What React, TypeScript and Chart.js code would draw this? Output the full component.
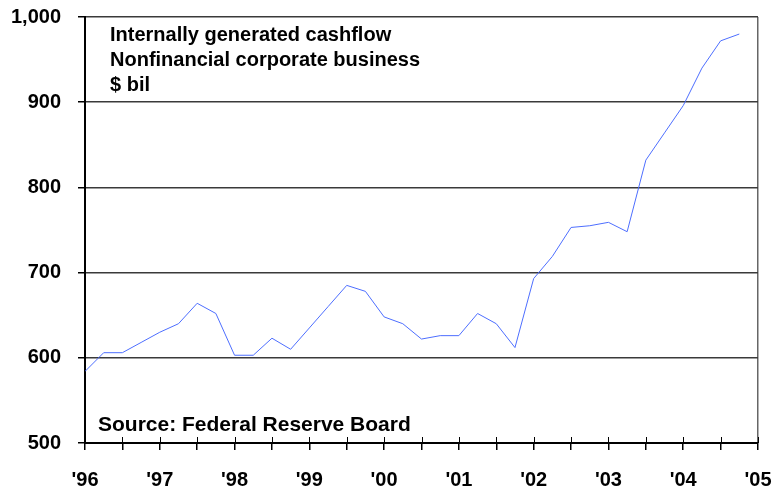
import React, { useEffect, useRef } from "react";
import { Chart, registerables } from "chart.js";

Chart.register(...registerables);

const quarters = [
  "1996Q1","1996Q2","1996Q3","1996Q4",
  "1997Q1","1997Q2","1997Q3","1997Q4",
  "1998Q1","1998Q2","1998Q3","1998Q4",
  "1999Q1","1999Q2","1999Q3","1999Q4",
  "2000Q1","2000Q2","2000Q3","2000Q4",
  "2001Q1","2001Q2","2001Q3","2001Q4",
  "2002Q1","2002Q2","2002Q3","2002Q4",
  "2003Q1","2003Q2","2003Q3","2003Q4",
  "2004Q1","2004Q2","2004Q3","2004Q4",
];

const cashflow = [
  584, 606, 606, 618,
  630, 640, 664, 652,
  603, 603, 623, 610,
  635, 660, 685, 678,
  648, 640, 622, 626,
  626, 652, 640, 612,
  693, 719, 753, 755,
  759, 748, 832, 864,
  896, 940, 972, 980,
];

const yearLabels = ["'96","'97","'98","'99","'00","'01","'02","'03","'04","'05"];
const titleLines = ["Internally generated cashflow", "Nonfinancial corporate business", "$ bil"];
const sourceText = "Source: Federal Reserve Board";

const FONT = 'Arial, "Liberation Sans", sans-serif';

const overlayPlugin = {
  id: "overlay",
  afterDraw(chart: any) {
    const { ctx, chartArea, scales } = chart;
    const xs = scales.x;
    ctx.save();
    ctx.strokeStyle = "#000";
    ctx.lineWidth = 1;
    xs.ticks.forEach((t: any) => {
      const px = Math.round(xs.getPixelForValue(t.value)) + 0.5;
      ctx.beginPath();
      ctx.moveTo(px, chartArea.bottom - 6);
      ctx.lineTo(px, chartArea.bottom);
      ctx.stroke();
    });
    ctx.fillStyle = "#000";
    ctx.textAlign = "left";
    ctx.textBaseline = "alphabetic";
    ctx.font = `bold 20px ${FONT}`;
    titleLines.forEach((line, i) => {
      ctx.fillText(line, chartArea.left + 25, chartArea.top + 24 + i * 25);
    });
    ctx.font = `bold 21px ${FONT}`;
    ctx.fillText(sourceText, chartArea.left + 13, chartArea.bottom - 12);
    ctx.restore();
  },
};

export default function App() {
  const ref = useRef<HTMLCanvasElement>(null);
  useEffect(() => {
    const chart = new Chart(ref.current as HTMLCanvasElement, {
      type: "line",
      data: {
        labels: quarters,
        datasets: [
          {
            label: "Internally generated cashflow",
            data: cashflow.map((v, i) => ({ x: i, y: v })),
            borderColor: "#4d6eff",
            borderWidth: 1,
            pointRadius: 0,
            tension: 0,
            fill: false,
          },
        ],
      },
      options: {
        animation: false,
        responsive: false,
        maintainAspectRatio: false,
        layout: { autoPadding: false, padding: { top: 17, right: 17, left: 0, bottom: 0 } },
        plugins: { legend: { display: false }, tooltip: { enabled: false }, title: { display: false } },
        scales: {
          x: {
            type: "linear",
            min: 0,
            max: 36,
            afterBuildTicks: (scale: any) => {
              const arr = [];
              for (let v = 0; v <= 36; v += 2) arr.push({ value: v });
              scale.ticks = arr;
            },
            afterFit: (scale: any) => {
              scale.height = 50;
              scale.paddingLeft = 0;
              scale.paddingRight = 0;
            },
            ticks: {
              autoSkip: false,
              maxRotation: 0,
              padding: 18,
              color: "#000",
              font: { family: FONT, size: 20, weight: "bold" },
              callback: (v: any) => (Number(v) % 4 === 0 ? yearLabels[Number(v) / 4] : ""),
            },
            grid: {
              drawOnChartArea: true,
              drawTicks: true,
              tickLength: 7,
              tickColor: "#000",
              color: (c: any) => (c.tick && c.tick.value === 36 ? "#666" : "rgba(0,0,0,0)"),
              lineWidth: 1.5,
            },
            border: { color: "#000", width: 2 },
          },
          y: {
            min: 500,
            max: 1000,
            afterFit: (scale: any) => {
              scale.width = 85;
              scale.paddingTop = 0;
              scale.paddingBottom = 0;
            },
            ticks: {
              stepSize: 100,
              padding: 17,
              color: "#000",
              font: { family: FONT, size: 20, weight: "bold" },
              callback: (v: any) => Number(v).toLocaleString("en-US"),
            },
            grid: {
              drawOnChartArea: true,
              tickLength: 7,
              tickColor: "#000",
              color: "#3a3a3a",
              lineWidth: 1.5,
            },
            border: { color: "#000", width: 2 },
          },
        },
      },
      plugins: [overlayPlugin],
    } as any);
    return () => chart.destroy();
  }, []);
  return (
    <div style={{ width: 775, height: 493 }}>
      <style>{"body{margin:0}"}</style>
      <canvas ref={ref} width={775} height={493} style={{ display: "block" }} />
    </div>
  );
}
